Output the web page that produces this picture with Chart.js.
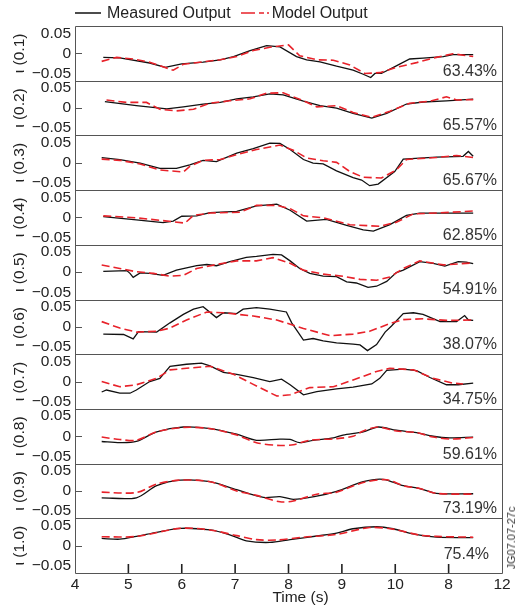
<!DOCTYPE html>
<html>
<head>
<meta charset="utf-8">
<script src="https://cdn.jsdelivr.net/npm/chart.js@4.4.1/dist/chart.umd.min.js"></script>
<style>
  body { margin: 0; background: #fff; }
  #wrap { position: relative; width: 516px; height: 609px; }
  #legend {
    position: absolute; left: 75px; top: 4px;
    display: flex; align-items: center;
    font: 16px "Liberation Sans", Arial, sans-serif; color: #222;
  }
  #legend svg { display: block; }
  #legend .txt { margin: 0 10px 0 6px; }
  #code {
    position: absolute; left: 511px; top: 538px;
    transform: translate(-50%, -50%) rotate(-90deg);
    font: 11px "Liberation Sans", Arial, sans-serif; color: #333; white-space: nowrap;
  }
</style>
</head>
<body>
<div id="wrap">
  <canvas id="chart" width="516" height="609"></canvas>
  <div id="legend">
    <svg width="26" height="4"><line x1="0" y1="2" x2="26" y2="2" stroke="#111" stroke-width="1.5"/></svg>
    <span class="txt">Measured Output</span>
    <svg width="28" height="4"><line x1="0" y1="2" x2="28" y2="2" stroke="#e8222a" stroke-width="1.6" stroke-dasharray="14,4,5,3,2"/></svg>
    <span class="txt" style="margin-left:3px">Model Output</span>
  </div>
  <div id="code">JG07.07-27c</div>
</div>
<script>
const panelNames = ["ι (0.1)", "ι (0.2)", "ι (0.3)", "ι (0.4)", "ι (0.5)",
                    "ι (0.6)", "ι (0.7)", "ι (0.8)", "ι (0.9)", "ι (1.0)"];
const fitLabels = ["63.43%", "65.57%", "65.67%", "62.85%", "54.91%",
                   "38.07%", "34.75%", "59.61%", "73.19%", "75.4%"];
const timeTicks = [4, 5, 6, 7, 8, 9, 10, 11, 12];
const timeTickLabels = ["4", "5", "6", "7", "8", "9", "10", "8", "12"];
const yTicks = [-0.05, 0, 0.05];
const yTickLabels = ["\u22120.05", "0", "0.05"];

// [time (s), value]
const measured = [
  [[4.53,-0.010],[4.84,-0.011],[5.40,-0.024],[5.69,-0.035],[6.00,-0.026],[6.40,-0.022],[6.72,-0.016],[6.97,-0.008],[7.28,0.007],[7.59,0.019],[7.84,0.016],[8.15,-0.008],[8.34,-0.016],[8.59,-0.021],[8.90,-0.032],[9.21,-0.042],[9.40,-0.052],[9.54,-0.060],[9.62,-0.050],[9.74,-0.050],[10.02,-0.031],[10.27,-0.014],[10.52,-0.012],[10.90,-0.008],[11.08,-0.003],[11.46,-0.003]],
  [[4.56,0.016],[5.15,0.006],[5.72,-0.002],[6.03,0.003],[6.40,0.010],[6.72,0.014],[7.03,0.023],[7.34,0.028],[7.65,0.035],[7.90,0.033],[8.28,0.017],[8.59,0.006],[8.90,0.000],[9.21,-0.013],[9.56,-0.025],[9.84,-0.013],[10.21,0.010],[10.52,0.015],[10.96,0.018],[11.46,0.022]],
  [[4.50,0.013],[4.84,0.008],[5.22,-0.001],[5.59,-0.014],[5.90,-0.014],[6.15,-0.005],[6.40,0.006],[6.65,0.003],[7.03,0.024],[7.34,0.035],[7.65,0.049],[7.84,0.048],[8.03,0.033],[8.28,0.008],[8.46,-0.001],[8.65,-0.003],[8.90,-0.020],[9.21,-0.037],[9.37,-0.043],[9.52,-0.057],[9.68,-0.053],[9.99,-0.022],[10.15,0.009],[10.77,0.014],[11.27,0.016],[11.37,0.028],[11.46,0.016]],
  [[4.53,0.002],[5.15,-0.006],[5.65,-0.013],[5.84,-0.009],[6.00,0.003],[6.28,0.004],[6.53,0.012],[7.03,0.015],[7.40,0.029],[7.78,0.033],[8.03,0.018],[8.34,-0.009],[8.71,-0.005],[9.09,-0.020],[9.40,-0.031],[9.59,-0.034],[9.90,-0.018],[10.21,0.005],[10.46,0.011],[11.46,0.011]],
  [[4.53,0.002],[4.97,0.004],[5.03,-0.003],[5.09,-0.013],[5.22,-0.002],[5.40,-0.003],[5.65,-0.008],[5.90,0.005],[6.28,0.016],[6.47,0.019],[6.65,0.016],[6.90,0.026],[7.21,0.037],[7.40,0.039],[7.71,0.044],[7.87,0.043],[8.03,0.028],[8.21,0.009],[8.40,-0.003],[8.65,-0.010],[8.90,-0.011],[9.09,-0.024],[9.27,-0.027],[9.49,-0.038],[9.65,-0.035],[9.84,-0.023],[10.02,-0.001],[10.15,0.005],[10.46,0.026],[10.71,0.022],[10.93,0.015],[11.18,0.026],[11.33,0.025],[11.46,0.021]],
  [[4.53,-0.018],[4.91,-0.019],[5.09,-0.030],[5.19,-0.012],[5.53,-0.013],[5.78,0.010],[6.03,0.031],[6.22,0.044],[6.40,0.050],[6.65,0.023],[6.78,0.035],[7.03,0.033],[7.15,0.044],[7.40,0.048],[7.65,0.044],[7.96,0.037],[8.06,0.010],[8.28,-0.033],[8.46,-0.029],[8.65,-0.035],[8.90,-0.040],[9.21,-0.043],[9.34,-0.045],[9.48,-0.059],[9.65,-0.044],[9.81,-0.013],[9.93,0.002],[10.15,0.033],[10.34,0.035],[10.52,0.031],[10.84,0.013],[11.15,0.013],[11.30,0.028],[11.37,0.017],[11.46,0.016]],
  [[4.50,-0.026],[4.59,-0.021],[4.84,-0.029],[5.03,-0.029],[5.15,-0.021],[5.40,0.000],[5.59,0.008],[5.78,0.038],[6.09,0.043],[6.37,0.046],[6.53,0.039],[6.78,0.023],[7.03,0.018],[7.34,0.010],[7.65,0.000],[7.87,0.006],[8.03,-0.008],[8.28,-0.033],[8.53,-0.025],[8.90,-0.018],[9.21,-0.014],[9.56,-0.006],[9.71,0.008],[9.84,0.028],[10.15,0.031],[10.40,0.027],[10.65,0.010],[10.96,-0.008],[11.18,-0.008],[11.46,-0.004]],
  [[4.50,-0.013],[4.84,-0.016],[5.15,-0.013],[5.53,0.011],[6.03,0.023],[6.53,0.019],[7.03,0.005],[7.40,-0.010],[7.84,-0.007],[8.03,-0.008],[8.21,-0.016],[8.46,-0.010],[8.84,-0.004],[9.02,0.003],[9.40,0.011],[9.68,0.023],[10.02,0.015],[10.40,0.009],[10.71,0.000],[11.02,-0.004],[11.46,-0.002]],
  [[4.50,-0.017],[5.15,-0.017],[5.53,0.013],[5.97,0.027],[6.53,0.023],[7.03,0.003],[7.53,-0.016],[7.84,-0.014],[8.09,-0.021],[8.53,-0.013],[8.90,-0.001],[9.40,0.023],[9.77,0.029],[10.15,0.013],[10.46,0.006],[10.77,-0.006],[11.46,-0.007]],
  [[4.50,0.018],[4.84,0.016],[5.15,0.023],[5.53,0.033],[5.97,0.043],[6.53,0.039],[6.90,0.027],[7.21,0.012],[7.65,0.008],[8.03,0.015],[8.53,0.024],[8.90,0.031],[9.21,0.042],[9.65,0.047],[9.96,0.042],[10.34,0.029],[10.77,0.021],[11.46,0.020]]
];

const model = [
  [[4.50,-0.020],[4.78,-0.010],[5.09,-0.014],[5.40,-0.022],[5.84,-0.042],[6.03,-0.027],[6.40,-0.021],[6.72,-0.016],[7.03,-0.008],[7.34,0.007],[7.65,0.015],[8.00,0.021],[8.21,-0.006],[8.53,-0.016],[8.84,-0.017],[9.15,-0.029],[9.43,-0.050],[9.71,-0.048],[10.02,-0.035],[10.40,-0.023],[10.77,-0.010],[11.08,-0.001],[11.46,-0.008]],
  [[4.59,0.020],[4.97,0.014],[5.34,0.014],[5.59,-0.003],[5.90,-0.007],[6.22,-0.003],[6.53,0.012],[6.90,0.018],[7.28,0.023],[7.59,0.037],[7.90,0.038],[8.28,0.018],[8.53,0.003],[8.90,0.006],[9.21,-0.011],[9.56,-0.023],[9.90,-0.008],[10.27,0.012],[10.65,0.017],[10.96,0.028],[11.15,0.020],[11.46,0.021]],
  [[4.50,0.009],[4.84,0.006],[5.22,-0.003],[5.59,-0.018],[6.03,-0.023],[6.15,-0.009],[6.40,0.006],[6.72,0.008],[7.03,0.020],[7.40,0.033],[7.84,0.044],[8.09,0.031],[8.34,0.012],[8.65,0.005],[8.90,0.001],[9.15,-0.022],[9.40,-0.036],[9.74,-0.038],[10.02,-0.018],[10.21,0.008],[10.77,0.013],[11.15,0.018],[11.46,0.013]],
  [[4.53,0.004],[5.15,-0.001],[5.65,-0.008],[6.06,-0.014],[6.22,0.005],[6.53,0.011],[7.09,0.013],[7.40,0.030],[7.78,0.030],[8.03,0.022],[8.28,0.004],[8.65,-0.001],[9.15,-0.018],[9.71,-0.022],[10.02,-0.012],[10.34,0.009],[10.77,0.011],[11.46,0.016]],
  [[4.50,0.018],[4.84,0.009],[5.15,0.001],[5.47,-0.003],[5.78,-0.010],[6.03,-0.008],[6.28,0.009],[6.65,0.019],[7.03,0.028],[7.40,0.028],[7.71,0.036],[8.03,0.022],[8.28,0.005],[8.65,-0.005],[9.02,-0.010],[9.34,-0.018],[9.65,-0.020],[9.90,-0.012],[10.15,0.009],[10.46,0.028],[10.90,0.018],[11.46,0.023]],
  [[4.50,0.013],[4.84,-0.003],[5.15,-0.013],[5.53,-0.011],[5.78,-0.003],[6.09,0.017],[6.47,0.037],[6.78,0.035],[7.34,0.027],[7.78,0.017],[8.28,-0.004],[8.78,-0.022],[9.21,-0.018],[9.52,-0.011],[9.90,0.008],[10.15,0.018],[10.52,0.020],[10.96,0.016],[11.46,0.017]],
  [[4.50,0.000],[4.84,-0.013],[5.15,-0.008],[5.53,0.008],[5.78,0.029],[6.09,0.033],[6.53,0.038],[6.97,0.018],[7.34,-0.007],[7.78,-0.036],[8.03,-0.033],[8.40,-0.015],[8.84,-0.013],[9.21,0.004],[9.65,0.025],[9.90,0.033],[10.34,0.029],[10.71,0.008],[11.08,-0.004],[11.27,-0.006]],
  [[4.50,-0.002],[4.84,-0.008],[5.15,-0.010],[5.53,0.011],[6.03,0.022],[6.53,0.019],[7.03,0.003],[7.40,-0.016],[7.84,-0.023],[8.09,-0.021],[8.40,-0.010],[8.90,-0.006],[9.21,0.000],[9.40,0.013],[9.68,0.023],[10.02,0.013],[10.40,0.009],[10.71,-0.002],[11.08,-0.007],[11.46,-0.003]],
  [[4.50,-0.003],[5.15,-0.004],[5.53,0.017],[5.97,0.027],[6.53,0.023],[7.03,0.000],[7.40,-0.011],[7.84,-0.027],[8.09,-0.025],[8.53,-0.008],[8.90,-0.003],[9.40,0.021],[9.84,0.028],[10.15,0.013],[10.46,0.006],[10.77,-0.006],[11.46,-0.008]],
  [[4.50,0.022],[5.15,0.023],[5.97,0.043],[6.53,0.039],[7.03,0.025],[7.40,0.015],[7.78,0.014],[8.28,0.021],[8.90,0.028],[9.52,0.045],[9.96,0.041],[10.46,0.026],[10.77,0.023],[11.46,0.021]]
];

const yLimit = 0.068;
const textColor = "#222";
const frameColor = "#555";

Chart.defaults.font.family = '"Liberation Sans", Arial, sans-serif';
Chart.defaults.font.size = 15.5;
Chart.defaults.color = textColor;

const panelIds = panelNames.map((_, i) => "p" + (i + 1));

/* frames, inward ticks, fit percentages, x title */
const panelDecor = {
  id: "panelDecor",
  afterDraw(chart) {
    const { ctx, chartArea: ca } = chart;
    const px = v => Math.round(v) + 0.5;
    const left = px(ca.left), right = px(ca.right);
    ctx.save();
    ctx.strokeStyle = frameColor;
    ctx.lineWidth = 1;

    // one line per panel boundary, so neighbours don't double up
    const edges = [chart.scales[panelIds[0]].top].concat(panelIds.map(id => chart.scales[id].bottom));
    ctx.beginPath();
    edges.forEach(e => {
      ctx.moveTo(left, px(e));
      ctx.lineTo(right, px(e));
    });
    ctx.moveTo(left, px(edges[0]));
    ctx.lineTo(left, px(edges[edges.length - 1]));
    ctx.moveTo(right, px(edges[0]));
    ctx.lineTo(right, px(edges[edges.length - 1]));
    ctx.stroke();

    panelIds.forEach((id, i) => {
      const s = chart.scales[id];
      const y0 = px(s.getPixelForValue(0));
      ctx.beginPath();
      ctx.moveTo(ca.left, y0);
      ctx.lineTo(ca.left + 7, y0);
      ctx.stroke();

      const last = i === panelIds.length - 1;
      ctx.fillStyle = "#333";
      ctx.font = '16px "Liberation Sans", Arial, sans-serif';
      ctx.textAlign = "right";
      ctx.textBaseline = "middle";
      ctx.fillText(fitLabels[i], ca.right - (last ? 13 : 5), s.bottom - (last ? 18 : 9.5));
    });

    const xs = chart.scales.x;
    ctx.lineWidth = 1.6;
    ctx.strokeStyle = "#222";
    timeTicks.slice(1, -1).forEach(t => {
      const x = xs.getPixelForValue(t);
      ctx.beginPath();
      ctx.moveTo(x, ca.bottom);
      ctx.lineTo(x, ca.bottom - 9);
      ctx.stroke();
    });

    ctx.fillStyle = textColor;
    ctx.font = '15.5px "Liberation Sans", Arial, sans-serif';
    ctx.textAlign = "center";
    ctx.fillText("Time (s)", 300.5, 598);
    ctx.restore();
  }
};

const scales = {
  x: {
    type: "linear",
    min: 4,
    max: 12,
    afterBuildTicks: s => { s.ticks = timeTicks.map(v => ({ value: v })); },
    afterFit: s => { s.height = 36; },
    grid: { display: false, drawTicks: false },
    border: { display: false },
    ticks: { autoSkip: false, maxRotation: 0, padding: 2, callback: (v, i) => timeTickLabels[i] }
  }
};

panelIds.forEach((id, i) => {
  scales[id] = {
    type: "linear",
    position: "left",
    stack: "panels",
    stackWeight: 1,
    weight: panelIds.length - i,
    min: -yLimit,
    max: yLimit,
    afterBuildTicks: s => { s.ticks = yTicks.map(v => ({ value: v })); },
    afterFit: s => { s.width = 75; },
    grid: { display: false, drawTicks: false },
    border: { display: false },
    ticks: { autoSkip: false, padding: 4, callback: (v, k) => yTickLabels[k] },
    title: { display: true, text: panelNames[i], padding: { top: 10, bottom: 0 } }
  };
});

const datasets = [];
panelIds.forEach((id, i) => {
  const smooth = i >= 7 ? 0.3 : 0;
  datasets.push({
    label: "Model Output",
    data: model[i],
    yAxisID: id,
    borderColor: "#e8222a",
    borderWidth: 1.6,
    borderDash: [8, 4],
    tension: smooth,
    order: 0
  });
  datasets.push({
    label: "Measured Output",
    data: measured[i],
    yAxisID: id,
    borderColor: "#111",
    borderWidth: 1.3,
    tension: smooth,
    order: 1
  });
});

new Chart(document.getElementById("chart"), {
  type: "line",
  data: { datasets },
  options: {
    responsive: false,
    animation: false,
    elements: { point: { radius: 0 } },
    layout: { padding: { top: 26, right: 14, bottom: 0, left: 0 } },
    plugins: { legend: { display: false }, tooltip: { enabled: false } },
    scales
  },
  plugins: [panelDecor]
});
</script>
</body>
</html>
